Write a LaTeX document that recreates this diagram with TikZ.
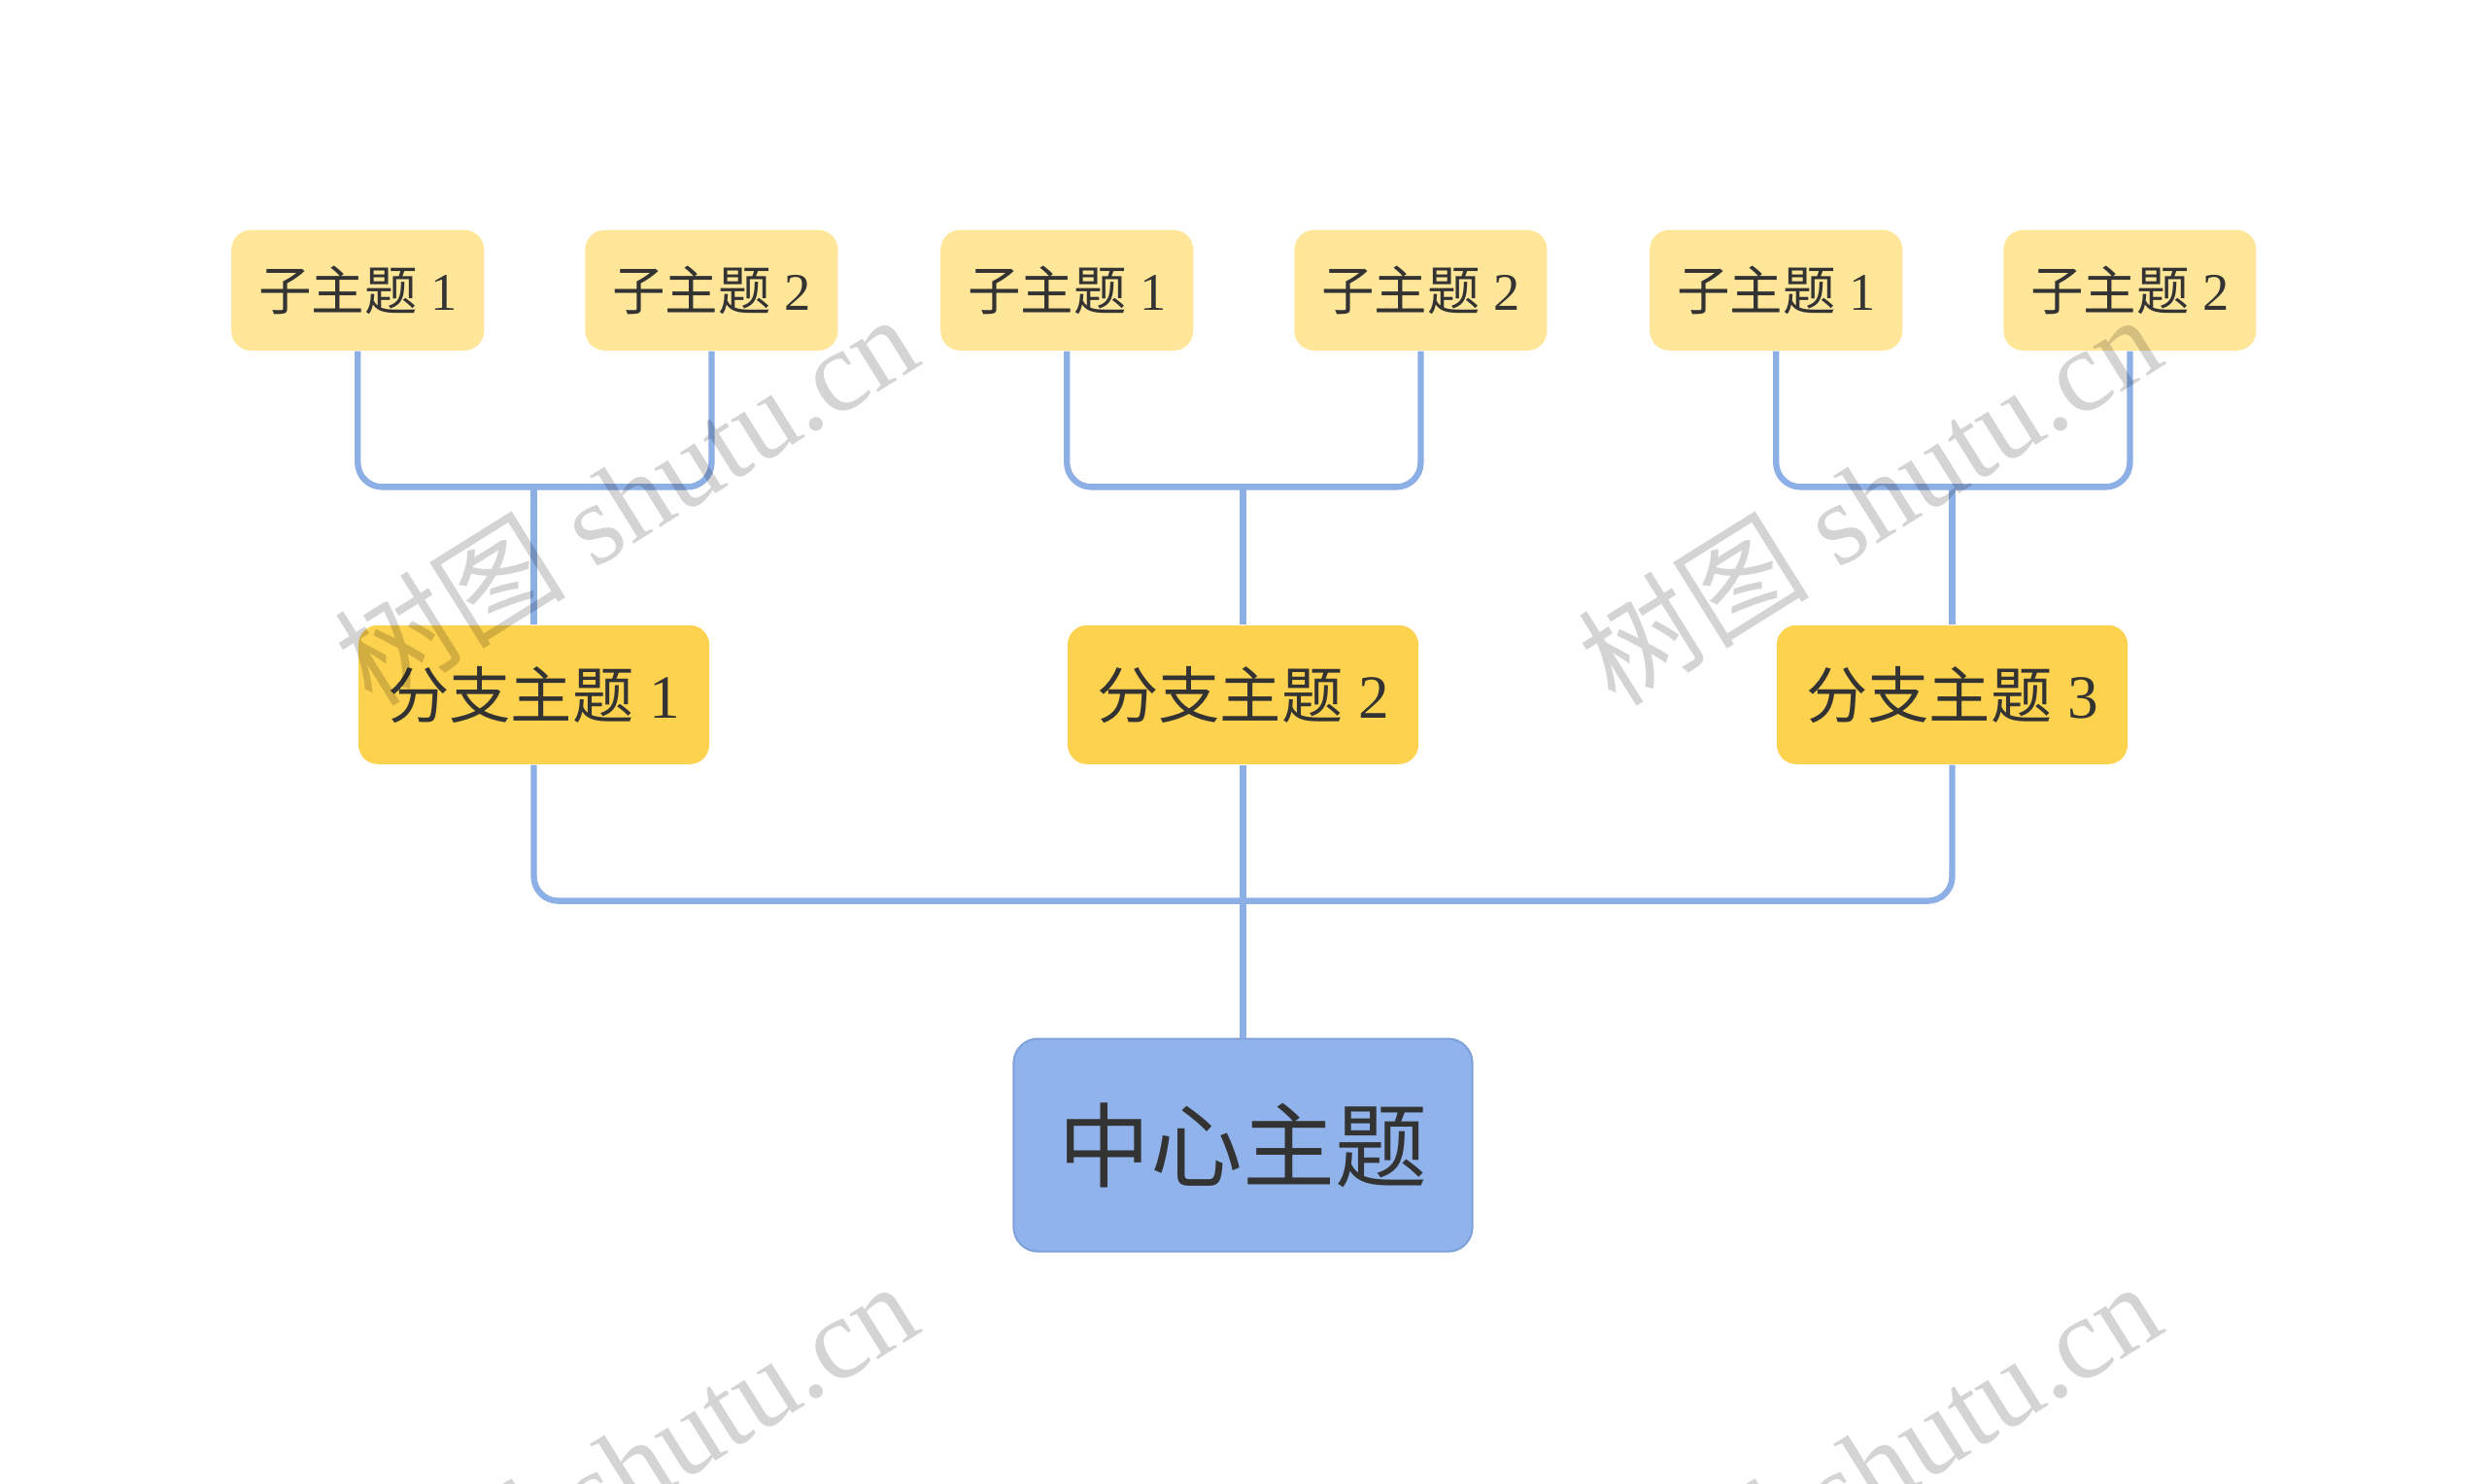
\documentclass[tikz,border=0pt]{standalone}
\usepackage{fontspec}
\setmainfont{Liberation Serif}
\newfontfamily\cjk{Noto Sans CJK SC}
\usepackage{tikz}

\definecolor{linkblue}{HTML}{8CAFE6}
\definecolor{subyellow}{HTML}{FFE699}
\definecolor{branchyellow}{HTML}{FDD24E}
\definecolor{rootblue}{HTML}{8FB3EA}
\definecolor{rootedge}{HTML}{7FA2DB}
\definecolor{textgray}{HTML}{333333}

\newcommand{\zh}[1]{{\cjk #1}}

\tikzset{
  subbox/.style={rectangle, rounded corners=0.2cm, fill=subyellow, text=textgray,
    minimum width=2.6cm, minimum height=1.24cm, inner sep=0pt,
    font=\fontsize{15.5}{18}\selectfont},
  branchbox/.style={rectangle, rounded corners=0.2cm, fill=branchyellow, text=textgray,
    minimum width=3.61cm, minimum height=1.43cm, inner sep=0pt,
    font=\fontsize{18}{21}\selectfont},
  rootbox/.style={rectangle, rounded corners=0.25cm, fill=rootblue, draw=rootedge,
    line width=0.6pt, text=textgray, minimum width=4.72cm, minimum height=2.19cm,
    inner sep=0pt, font=\cjk\fontsize{27}{32}\selectfont},
  link/.style={draw=linkblue, line width=1.8pt, rounded corners=0.25cm},
  wmark/.style={text=black, opacity=0.17, rotate=32, inner sep=0pt,
    font=\fontsize{34}{38}\selectfont}
}

\begin{document}
\begin{tikzpicture}[x=0.01633cm, y=-0.01633cm]
    \useasboundingbox (0,0) rectangle (1567.6,935.1);
    \node[rootbox] (root) at (783.5,722) {中心主题};
    \node[branchbox] (b1) at (336.5,438) {\zh{分支主题} 1};
    \node[branchbox] (b2) at (783.5,438) {\zh{分支主题} 2};
    \node[branchbox] (b3) at (1230.5,438) {\zh{分支主题} 3};
    \node[subbox] (s11) at (225.5,183) {\zh{子主题} 1};
    \node[subbox] (s12) at (448.5,183) {\zh{子主题} 2};
    \node[subbox] (s21) at (672.5,183) {\zh{子主题} 1};
    \node[subbox] (s22) at (895.5,183) {\zh{子主题} 2};
    \node[subbox] (s31) at (1119.5,183) {\zh{子主题} 1};
    \node[subbox] (s32) at (1342.5,183) {\zh{子主题} 2};
    \coordinate (j0) at (783.5,568);
    \coordinate (j1) at (336.5,307);
    \coordinate (j2) at (783.5,307);
    \coordinate (j3) at (1230.5,307);
    % root to branches
    \draw[link] (b1.south) |- (j0) -| (b3.south);
    \draw[link] (b2.south) -- (root.north);
    % branches to subtopics
    \draw[link] (s11.south) |- (j1) -| (s12.south);
    \draw[link] (j1) -- (b1.north);
    \draw[link] (s21.south) |- (j2) -| (s22.south);
    \draw[link] (j2) -- (b2.north);
    \draw[link] (s31.south) |- (j3) -| (s32.south);
    \draw[link] (j3) -- (b3.north);
    % watermark
    \begin{scope}
    \clip (0,0) rectangle (1567.6,935.1);
    \node[wmark] (w1) at (394,314) {\zh{树图} shutu.cn};
    \node[wmark] (w2) at (1178,314) {\zh{树图} shutu.cn};
    \node[wmark] (w3) at (394,924) {\zh{树图} shutu.cn};
    \node[wmark] (w4) at (1178,924) {\zh{树图} shutu.cn};
    \end{scope}
\end{tikzpicture}
\end{document}
